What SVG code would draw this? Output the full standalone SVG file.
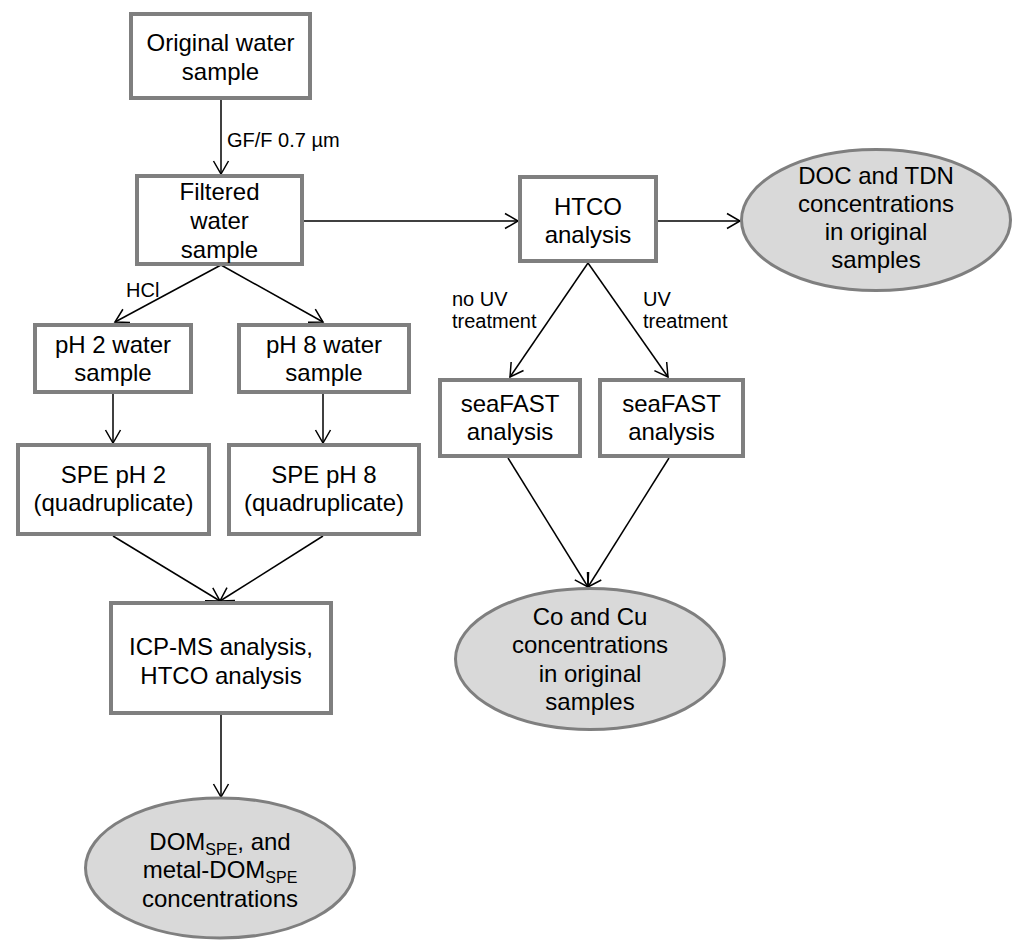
<svg xmlns="http://www.w3.org/2000/svg" width="1019" height="941" viewBox="0 0 1019 941">
<style>
.box{fill:#fff;stroke:#7f7f7f;stroke-width:4}
.ell{fill:#d9d9d9;stroke:#7f7f7f;stroke-width:3}
.t{font-family:"Liberation Sans",Arial,sans-serif;font-size:24px;fill:#000;text-anchor:middle}
.l{font-family:"Liberation Sans",Arial,sans-serif;font-size:20px;fill:#000}
.c{fill:none;stroke:#000;stroke-width:1.5}
</style>
<defs>
<marker id="ah" markerUnits="userSpaceOnUse" markerWidth="20" markerHeight="20" viewBox="-14 -10 16 20" refX="0" refY="0" orient="auto">
<path d="M-13,-7.5 L0,0 L-13,7.5" fill="none" stroke="#000" stroke-width="1.5"/>
</marker>
</defs>
<rect width="1019" height="941" fill="#fff"/>
<g id="connectors">
<line class="c" x1="221" y1="100" x2="221" y2="174" marker-end="url(#ah)"/>
<line class="c" x1="304" y1="221" x2="518" y2="221" marker-end="url(#ah)"/>
<line class="c" x1="658" y1="221" x2="740" y2="221" marker-end="url(#ah)"/>
<line class="c" x1="221" y1="265" x2="115" y2="322" marker-end="url(#ah)"/>
<line class="c" x1="221" y1="265" x2="323" y2="322" marker-end="url(#ah)"/>
<line class="c" x1="113" y1="394" x2="113" y2="443" marker-end="url(#ah)"/>
<line class="c" x1="323" y1="394" x2="323" y2="443" marker-end="url(#ah)"/>
<line class="c" x1="113" y1="536" x2="220" y2="601" marker-end="url(#ah)"/>
<line class="c" x1="323" y1="536" x2="220" y2="601" marker-end="url(#ah)"/>
<line class="c" x1="221" y1="715" x2="221" y2="797" marker-end="url(#ah)"/>
<line class="c" x1="588" y1="263" x2="510" y2="377" marker-end="url(#ah)"/>
<line class="c" x1="588" y1="263" x2="668" y2="377" marker-end="url(#ah)"/>
<line class="c" x1="508" y1="458" x2="588" y2="587" marker-end="url(#ah)"/>
<line class="c" x1="669" y1="458" x2="588" y2="587" marker-end="url(#ah)"/>
<text class="l" x="227" y="147">GF/F 0.7 µm</text>
<text class="l" x="126" y="297">HCl</text>
<text class="l" x="452" y="306">no UV</text>
<text class="l" x="452" y="328">treatment</text>
<text class="l" x="643" y="306">UV</text>
<text class="l" x="643" y="328">treatment</text>
</g>
<g id="original">
<rect class="box" x="131" y="14" width="179" height="84"/>
<text class="t" x="220.5" y="51">Original water</text>
<text class="t" x="220.5" y="80">sample</text>
</g>
<g id="filtered">
<rect class="box" x="137" y="176" width="165" height="88"/>
<text class="t" x="219.5" y="200">Filtered</text>
<text class="t" x="219.5" y="229">water</text>
<text class="t" x="219.5" y="258">sample</text>
</g>
<g id="htco">
<rect class="box" x="520" y="177" width="136" height="84"/>
<text class="t" x="588" y="215">HTCO</text>
<text class="t" x="588" y="243">analysis</text>
</g>
<g id="doc">
<ellipse class="ell" cx="876" cy="220" rx="134.5" ry="70.5"/>
<text class="t" x="876" y="184">DOC and TDN</text>
<text class="t" x="876" y="212">concentrations</text>
<text class="t" x="876" y="240">in original</text>
<text class="t" x="876" y="268">samples</text>
</g>
<g id="ph2">
<rect class="box" x="35" y="325" width="156" height="67"/>
<text class="t" x="113" y="353">pH 2 water</text>
<text class="t" x="113" y="381">sample</text>
</g>
<g id="ph8">
<rect class="box" x="239" y="325" width="170" height="67"/>
<text class="t" x="324" y="353">pH 8 water</text>
<text class="t" x="324" y="381">sample</text>
</g>
<g id="spe2">
<rect class="box" x="18" y="445" width="191" height="89"/>
<text class="t" x="113.5" y="483">SPE pH 2</text>
<text class="t" x="113.5" y="511">(quadruplicate)</text>
</g>
<g id="spe8">
<rect class="box" x="229" y="445" width="190" height="89"/>
<text class="t" x="324" y="483">SPE pH 8</text>
<text class="t" x="324" y="511">(quadruplicate)</text>
</g>
<g id="icp">
<rect class="box" x="111" y="603" width="220" height="110"/>
<text class="t" x="221" y="655">ICP-MS analysis,</text>
<text class="t" x="221" y="684">HTCO analysis</text>
</g>
<g id="dom">
<ellipse class="ell" cx="220" cy="868" rx="134.5" ry="70"/>
<text class="t" x="220" y="850">DOM<tspan font-size="16" dy="5">SPE</tspan><tspan dy="-5">, and</tspan></text>
<text class="t" x="220" y="878">metal-DOM<tspan font-size="16" dy="5">SPE</tspan></text>
<text class="t" x="220" y="907">concentrations</text>
</g>
<g id="seafast1">
<rect class="box" x="440" y="380" width="140" height="76"/>
<text class="t" x="510" y="412">seaFAST</text>
<text class="t" x="510" y="440">analysis</text>
</g>
<g id="seafast2">
<rect class="box" x="600" y="380" width="143" height="76"/>
<text class="t" x="671.5" y="412">seaFAST</text>
<text class="t" x="671.5" y="440">analysis</text>
</g>
<g id="cocu">
<ellipse class="ell" cx="590" cy="659" rx="134.5" ry="70.5"/>
<text class="t" x="590" y="625">Co and Cu</text>
<text class="t" x="590" y="653">concentrations</text>
<text class="t" x="590" y="682">in original</text>
<text class="t" x="590" y="710">samples</text>
</g>
</svg>
